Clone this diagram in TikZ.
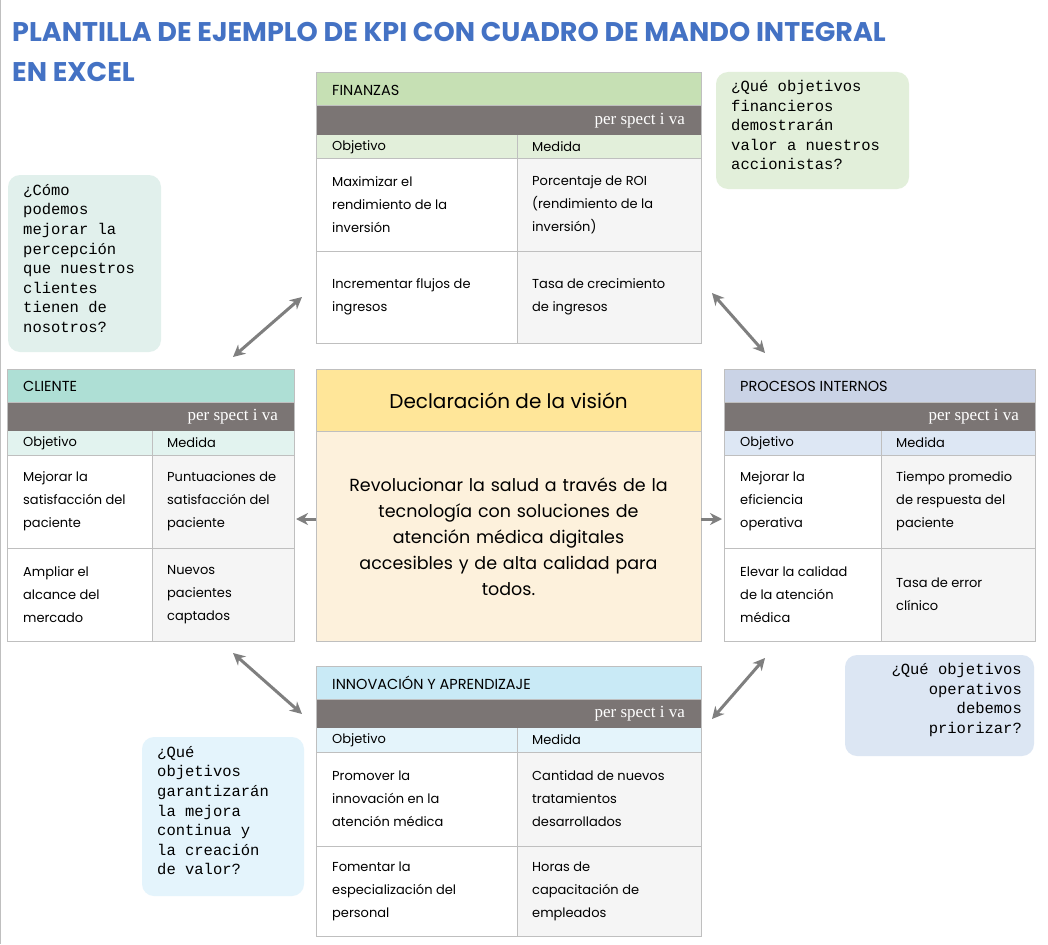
\documentclass[tikz,border=0pt]{standalone}
\usepackage{fontspec}
\usetikzlibrary{arrows.meta}
\setmainfont{Poppins}
\newfontfamily\qfont{Liberation Mono}
\newfontfamily\pfont{Liberation Serif}
\definecolor{titleblue}{HTML}{4472C4}
\definecolor{barg}{HTML}{7B7574}
\definecolor{linec}{HTML}{BFBFBF}
\definecolor{cellg}{HTML}{F5F5F5}
\definecolor{arr}{HTML}{7F7F7F}
\definecolor{finh}{HTML}{C6E0B4}\definecolor{fins}{HTML}{E2EFDA}
\definecolor{clih}{HTML}{AEDFD5}\definecolor{clis}{HTML}{E2F3EF}
\definecolor{proh}{HTML}{CAD3E6}\definecolor{pros}{HTML}{DDE7F4}
\definecolor{innh}{HTML}{C9EAF6}\definecolor{inns}{HTML}{E4F4FB}
\definecolor{vtop}{HTML}{FFE699}\definecolor{vbot}{HTML}{FDF1DC}
\definecolor{qa}{HTML}{E2EFDA}\definecolor{qb}{HTML}{E1F0EC}
\definecolor{qc}{HTML}{DCE6F3}\definecolor{qd}{HTML}{E4F4FC}
\tikzset{
 cell/.style={anchor=west,align=left,font=\fontsize{13}{23}\selectfont,inner sep=0pt},
 hd/.style={anchor=west,font=\fontsize{14.5}{17}\selectfont,inner sep=0pt},
 sub/.style={anchor=west,font=\fontsize{13}{15}\selectfont,inner sep=0pt},
 persp/.style={anchor=east,text=white,font=\pfont\fontsize{17}{20}\selectfont,inner sep=0pt},
 qbox/.style={rounded corners=12pt,draw=none},
 qtext/.style={font=\qfont\fontsize{15.5}{19.6}\selectfont,inner sep=0pt},
 biarrow/.style={{Stealth[length=12pt,width=12pt]}-{Stealth[length=12pt,width=12pt]},draw=arr,line width=3pt},
 onearrow/.style={-{Stealth[length=12pt,width=12pt]},draw=arr,line width=3pt},
}
\newcommand\kpitab[8]{%
 \fill[#2] (\xa,\ya) rectangle (\xb,\ya+33);
 \fill[barg] (\xa,\ya+33) rectangle (\xb,\ya+62);
 \fill[#3] (\xa,\ya+62) rectangle (\xb,\ya+86);
 \fill[white] (\xa,\ya+86) rectangle (\xs,\yb);
 \fill[cellg] (\xs,\ya+86) rectangle (\xb,\yb);
 \draw[linec,line width=1pt] (\xa,\ya) rectangle (\xb,\yb)
   (\xa,\ya+33)--(\xb,\ya+33) (\xa,\ya+86)--(\xb,\ya+86) (\xa,\yr)--(\xb,\yr)
   (\xs,\ya+62)--(\xs,\yb);
 \node[hd] (#1-t) at (\xa+16,\ya+17) {#4};
 \node[persp] (#1-p) at (\xb-16,\ya+48) {per spect i va};
 \node[sub] (#1-o) at (\xa+16,\ya+74) {Objetivo};
 \node[sub] (#1-m) at (\xs+15,\ya+74) {Medida};
 \node[cell] (#1-a) at (\xa+16,{(\ya+86+\yr)/2}) {#5};
 \node[cell] (#1-b) at (\xs+15,{(\ya+86+\yr)/2}) {#6};
 \node[cell] (#1-c) at (\xa+16,{(\yr+\yb)/2}) {#7};
 \node[cell] (#1-d) at (\xs+15,{(\yr+\yb)/2}) {#8};
}
\begin{document}
\begin{tikzpicture}[x=1pt,y=-1pt]
\useasboundingbox[fill=white] (0,0) rectangle (1048,944);
\draw[linec] (0.5,0)--(0.5,944);
\node[anchor=base west,inner sep=0pt,text=titleblue,font=\bfseries\fontsize{27}{30}\selectfont] (title1) at (12,42) {PLANTILLA DE EJEMPLO DE KPI CON CUADRO DE MANDO INTEGRAL};
\node[anchor=base west,inner sep=0pt,text=titleblue,font=\bfseries\fontsize{27}{30}\selectfont] (title2) at (12,82) {EN EXCEL};
\def\xa{316}\def\xb{701}\def\xs{517}\def\ya{73}\def\yr{251}\def\yb{343}
\kpitab{fin}{finh}{fins}{FINANZAS}{Maximizar el\\rendimiento de la\\inversión}{Porcentaje de ROI\\(rendimiento de la\\inversión)}{Incrementar flujos de\\ingresos}{Tasa de crecimiento\\de ingresos}
\def\xa{7}\def\xb{294}\def\xs{152}\def\ya{369}\def\yr{548}\def\yb{641}
\kpitab{cli}{clih}{clis}{CLIENTE}{Mejorar la\\satisfacción del\\paciente}{Puntuaciones de\\satisfacción del\\paciente}{Ampliar el\\alcance del\\mercado}{Nuevos\\pacientes\\captados}
\def\xa{724}\def\xb{1035}\def\xs{881}\def\ya{369}\def\yr{548}\def\yb{641}
\kpitab{pro}{proh}{pros}{PROCESOS INTERNOS}{Mejorar la\\eficiencia\\operativa}{Tiempo promedio\\de respuesta del\\paciente}{Elevar la calidad\\de la atención\\médica}{Tasa de error\\clínico}
\def\xa{316}\def\xb{701}\def\xs{517}\def\ya{666}\def\yr{846}\def\yb{936}
\kpitab{inn}{innh}{inns}{INNOVACIÓN Y APRENDIZAJE}{Promover la\\innovación en la\\atención médica}{Cantidad de nuevos\\tratamientos\\desarrollados}{Fomentar la\\especialización del\\personal}{Horas de\\capacitación de\\empleados}
\fill[vtop] (316,369) rectangle (701,431);
\fill[vbot] (316,431) rectangle (701,641);
\draw[linec,line width=1pt] (316,369) rectangle (701,641) (316,431)--(701,431);
\node[font=\fontsize{20}{24}\selectfont,inner sep=0pt] (vt) at (508.5,401) {Declaración de la visión};
\node[font=\fontsize{17.5}{26}\selectfont,align=center,inner sep=0pt,text width=380pt] (vb) at (508.5,537) {Revolucionar la salud a través de la\\tecnología con soluciones de\\atención médica digitales\\accesibles y de alta calidad para\\todos.};
\fill[qbox,qa] (716,72) rectangle (909,189);
\node[qtext,anchor=north west,align=left] (q1) at (731,80) {¿Qué objetivos\\financieros\\demostrarán\\valor a nuestros\\accionistas?};
\fill[qbox,qb] (8,175) rectangle (161,352);
\node[qtext,anchor=north west,align=left] (q2) at (23,184) {¿Cómo\\podemos\\mejorar la\\percepción\\que nuestros\\clientes\\tienen de\\nosotros?};
\fill[qbox,qc] (845,655) rectangle (1034,756);
\node[qtext,anchor=north east,align=right] (q3) at (1022,663) {¿Qué objetivos\\operativos\\debemos\\priorizar?};
\fill[qbox,qd] (142,737) rectangle (304,896);
\node[qtext,anchor=north west,align=left] (q4) at (157,746) {¿Qué\\objetivos\\garantizarán\\la mejora\\continua y\\la creación\\de valor?};
\coordinate (a1) at (233,357); \coordinate (b1) at (302,297);
\coordinate (a2) at (712,293); \coordinate (b2) at (765,353);
\coordinate (a3) at (233,653); \coordinate (b3) at (302,714);
\coordinate (a4) at (712,719); \coordinate (b4) at (765,658);
\coordinate (a5) at (296,519); \coordinate (b5) at (316,519);
\coordinate (a6) at (701,519); \coordinate (b6) at (722,519);
\draw[biarrow] (a1)--(b1);
\draw[biarrow] (a2)--(b2);
\draw[biarrow] (a3)--(b3);
\draw[biarrow] (a4)--(b4);
\draw[onearrow] (b5)--(a5);
\draw[onearrow] (a6)--(b6);
\end{tikzpicture}
\end{document}
